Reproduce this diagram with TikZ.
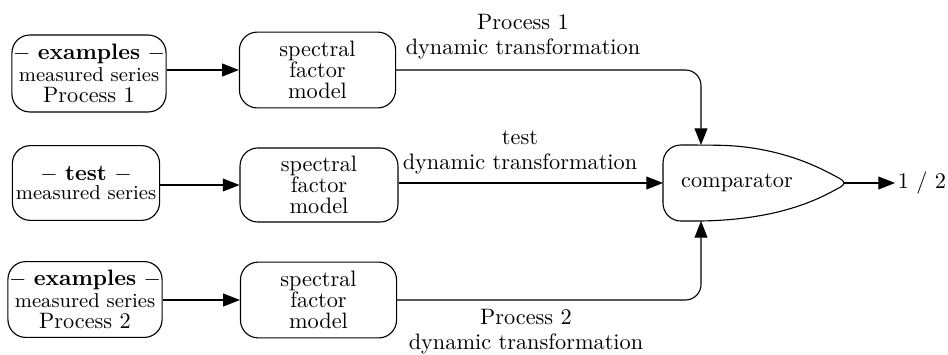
\documentclass[tikz,border=0pt]{standalone}
\usetikzlibrary{arrows.meta,calc}
\begin{document}
\begin{tikzpicture}[x=0.4484pt,y=-0.4484pt,
  line width=0.5pt,
  srcbox/.style={draw,rounded corners=8pt,align=center,inner sep=0.5pt,
    minimum width=69pt,minimum height=34.5pt},
  modelbox/.style={draw,rounded corners=8pt,align=center,inner sep=1pt,
    minimum width=70pt,minimum height=34pt},
  lbl/.style={align=center,inner sep=0pt},
  arr/.style={-{Triangle[length=7.5pt,width=5.8pt]}}]
\useasboundingbox (0,0) rectangle (948,354);

% input series
\node[srcbox] (ex1) at (89,73.5)
  {$-$ \textbf{examples} $-$\\[-2pt]{\small measured series}\\[-2.5pt]Process 1};
\node[srcbox,minimum width=66pt,minimum height=33.5pt] (tst) at (86,183)
  {$-$ \textbf{test} $-$\\[-3.4pt]{\small measured series}};
\node[srcbox,minimum height=34pt] (ex2) at (85,299.5)
  {$-$ \textbf{examples} $-$\\[-2pt]{\small measured series}\\[-2.5pt]Process 2};

% spectral factor models
\node[modelbox] (sp1) at (317.5,70) {spectral\\[-2.6pt]factor\\[-2.6pt]model};
\node[modelbox,minimum width=70.8pt,minimum height=33.2pt] (sp2) at (319,185) {spectral\\[-2.6pt]factor\\[-2.6pt]model};
\node[modelbox] (sp3) at (318.5,300) {spectral\\[-2.6pt]factor\\[-2.6pt]model};

% comparator
\node[inner sep=1pt] (cmp) at (737,183) {comparator};
\coordinate (cmpN) at (701,145);
\coordinate (cmpS) at (701,221);
\coordinate (cmpW) at (663,183);
\coordinate (cmpE) at (844,183);
\draw (700,145) .. controls (775,146) and (815,165) .. (835,176)
  .. controls (847,182) and (847,184) .. (835,190)
  .. controls (815,201) and (775,220) .. (700,221)
  [rounded corners=8pt] -- (663,221) -- (663,145) -- cycle;
\node[anchor=west,inner sep=1pt] (out) at (895,183) {1 / 2};

% connectors
\draw[arr] (ex1.east |- sp1) -- (sp1);
\draw[arr] (tst.east |- sp2) -- (sp2);
\draw[arr] (ex2.east |- sp3) -- (sp3);
\draw[arr,rounded corners=7pt] (sp1) -| (cmpN);
\draw[arr] (sp2.east |- cmpW) -- (cmpW);
\draw[arr,rounded corners=7pt] (sp3) -| (cmpS);
\draw[arr] (cmpE) -- (out.west);

% transformation labels
\node[lbl] (l1) at (523,36.5) {Process 1\\[-0.8pt]dynamic transformation};
\node[lbl] (l2) at (520,152) {test\\[-0.8pt]dynamic transformation};
\node[lbl] (l3) at (526,332) {Process 2\\[-0.8pt]dynamic transformation};
\end{tikzpicture}
\end{document}
